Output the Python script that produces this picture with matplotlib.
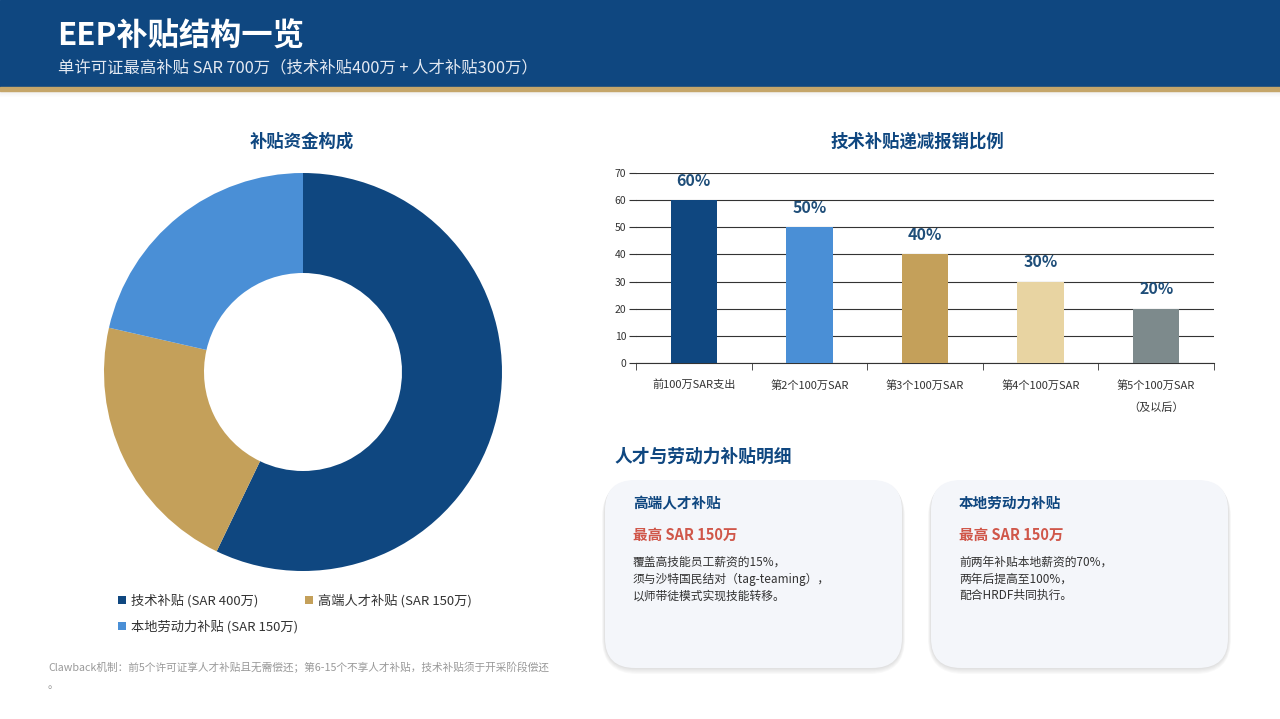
import matplotlib
matplotlib.use('Agg')
import matplotlib.pyplot as plt
from matplotlib.patches import FancyBboxPatch, Rectangle

plt.rcParams['font.family'] = ['Noto Sans CJK SC', 'DejaVu Sans']

# 数据
pie_labels = ['技术补贴 (SAR 400万)', '高端人才补贴 (SAR 150万)', '本地劳动力补贴 (SAR 150万)']
pie_values = [400, 150, 150]
pie_colors = ['#0F4780', '#C4A05A', '#4A8FD6']

bar_categories = ['前100万SAR支出', '第2个100万SAR', '第3个100万SAR',
                  '第4个100万SAR', '第5个100万SAR\n（及以后）']
bar_values = [60, 50, 40, 30, 20]
bar_labels = ['60%', '50%', '40%', '30%', '20%']
bar_colors = ['#0F4780', '#4A8FD6', '#C4A05A', '#E8D4A2', '#7D8A8C']

card_titles = ['高端人才补贴', '本地劳动力补贴']
card_amounts = ['最高 SAR 150万', '最高 SAR 150万']
card_texts = ['覆盖高技能员工薪资的15%，\n须与沙特国民结对（tag-teaming），\n以师带徒模式实现技能转移。',
              '前两年补贴本地薪资的70%，\n两年后提高至100%，\n配合HRDF共同执行。']

NAVY = '#0F4780'
W, H = 1280, 719

fig = plt.figure(figsize=(12.8, 7.19), dpi=100)

# 背景层：像素坐标
bg = fig.add_axes([0, 0, 1, 1])
bg.set_xlim(0, W)
bg.set_ylim(H, 0)
bg.axis('off')

# 顶部标题栏
bg.add_patch(Rectangle((0, 0), W, 87, color=NAVY, zorder=1))
for i in range(6):
    bg.add_patch(Rectangle((0, 91 + i), W, 1, color='#000000', alpha=0.06 * (6 - i) / 6, lw=0, zorder=1))
bg.add_patch(Rectangle((0, 87), W, 4, color='#C5A66A', zorder=2))
bg.text(57, 37, 'EEP补贴结构一览', color='white', fontsize=22.5, fontweight='bold', va='center', zorder=3)
bg.text(58, 68, '单许可证最高补贴 SAR 700万（技术补贴400万 + 人才补贴300万）', color='#E3E9F2',
        fontsize=11.8, va='center', zorder=3)

# 小标题
bg.text(302, 142, '补贴资金构成', color=NAVY, fontsize=12.5, fontweight='bold', ha='center', va='center')
bg.text(917, 142, '技术补贴递减报销比例', color=NAVY, fontsize=12.5, fontweight='bold', ha='center', va='center')
bg.text(614, 457, '人才与劳动力补贴明细', color=NAVY, fontsize=12.8, fontweight='bold', va='center')

# 卡片
for k, x0 in enumerate([605, 931]):
    for s in range(1, 6):
        bg.add_patch(FancyBboxPatch((x0 - s * 0.6, 480 + s * 0.4), 297 + s * 1.2, 188 + s * 0.8,
                                    boxstyle='round,pad=0,rounding_size=%d' % (30 + s),
                                    fc='#000000', ec='none', alpha=0.025, zorder=1))
    bg.add_patch(FancyBboxPatch((x0, 480), 297, 188, boxstyle='round,pad=0,rounding_size=30',
                                fc='#F4F6FA', ec='none', zorder=2))
    bg.text(x0 + 28, 503, card_titles[k], color=NAVY, fontsize=10.5, fontweight='bold', va='center', zorder=3)
    bg.text(x0 + 28, 535, card_amounts[k], color='#D0574A', fontsize=10.5, fontweight='bold', va='center', zorder=3)
    bg.text(x0 + 28, 556, card_texts[k], color='#333333', fontsize=8.5, va='top', linespacing=1.35, zorder=3)

# 脚注
bg.text(48, 667, 'Clawback机制：前5个许可证享人才补贴且无需偿还；第6-15个不享人才补贴，技术补贴须于开采阶段偿还',
        color='#999999', fontsize=7.7, va='center')
bg.text(48, 685, '。', color='#999999', fontsize=7.7, va='center')

# 环形图
cx, cy, r = 303, 372, 200
ax1 = fig.add_axes([(cx - r) / W, 1 - (cy + r) / H, 2 * r / W, 2 * r / H])
wedges, _ = ax1.pie(pie_values, colors=pie_colors, startangle=90, counterclock=False,
                    radius=0.995, wedgeprops=dict(width=0.5, edgecolor='none', linewidth=0))
ax1.set_aspect('equal')
ax1.set_xlim(-1, 1)
ax1.set_ylim(-1, 1)

order = [0, 2, 1]
fig.legend([wedges[i] for i in order], [pie_labels[i] for i in order], ncol=2,
           loc='upper left', bbox_to_anchor=(106 / W, 1 - 582 / H), frameon=False,
           fontsize=9.5, handlelength=0.6, handleheight=0.6, handletextpad=0.4,
           columnspacing=0.5, labelspacing=0.95, labelcolor='#333333')

# 柱状图
left, right, top, bottom = 636, 1214, 173, 363
ax2 = fig.add_axes([left / W, 1 - bottom / H, (right - left) / W, (bottom - top) / H])
x = range(len(bar_values))
bars = ax2.bar(x, bar_values, width=0.4, color=bar_colors, zorder=3)
for b, lab in zip(bars, bar_labels):
    ax2.annotate(lab, (b.get_x() + b.get_width() / 2, b.get_height()), xytext=(0, 14),
                 textcoords='offset points', ha='center', va='center',
                 fontsize=11.5, fontweight='bold', color='#1F4E79')
ax2.set_xlim(-0.5, len(bar_values) - 0.5)
ax2.set_ylim(0, 70)
ax2.set_yticks(range(0, 71, 10))
ax2.yaxis.grid(True, color='#333333', lw=0.8, zorder=0)
ax2.set_axisbelow(True)
ax2.set_xticks(list(x))
ax2.set_xticklabels(bar_categories, fontsize=8, color='#333333', linespacing=2.3, va='top')
ax2.set_xticks([i - 0.5 for i in range(len(bar_values) + 1)], minor=True)
ax2.tick_params(axis='x', which='major', length=0, pad=12)
ax2.tick_params(axis='x', which='minor', length=5, color='#333333')
ax2.tick_params(axis='y', length=5, color='#333333', labelsize=7.5, labelcolor='#333333', pad=2)
for s in ['top', 'right', 'left']:
    ax2.spines[s].set_visible(False)
ax2.spines['bottom'].set_color('#333333')

fig.savefig('out.png', dpi=100)
